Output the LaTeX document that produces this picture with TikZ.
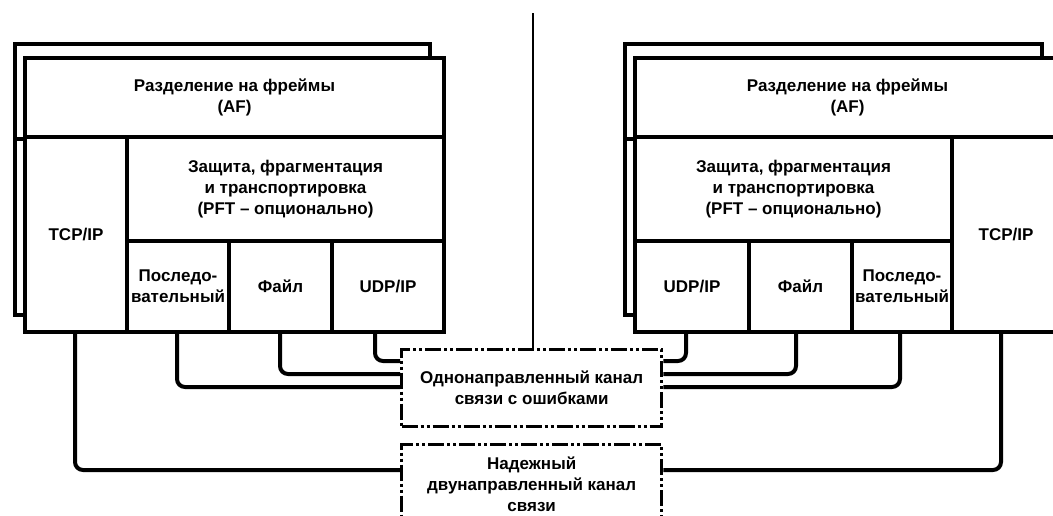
\documentclass[tikz,border=0pt]{standalone}
\usepackage{fontspec}
\setmainfont{Liberation Sans}
\begin{document}
\begin{tikzpicture}[x=1pt,y=-1pt,
  frame/.style={draw, line width=4pt, fill=white, anchor=north west, inner sep=0pt},
  cell/.style={draw, line width=4pt, anchor=north west, inner sep=0pt, align=center,
    font=\bfseries\fontsize{17}{21}\selectfont},
  dbox/.style={draw, line width=3.4pt, anchor=north west, inner sep=0pt, align=center,
    font=\bfseries\fontsize{17}{21}\selectfont,
    dash pattern=on 16pt off 3pt on 3pt off 3pt on 3pt off 3pt},
  conn/.style={line width=4pt, rounded corners=8pt},
  sep/.style={line width=4pt},
  axis/.style={line width=2.4pt}]
\useasboundingbox (0,0) rectangle (1053,515);
\clip (0,0) rectangle (1053,515);
% left stack
\node[frame, minimum width=415pt, minimum height=271pt] (Lback) at (13,42) {};
\node[frame, minimum width=419pt, minimum height=274pt] (Lfront) at (23,56) {};
\node[cell, minimum width=419pt, minimum height=79pt] (Laf) at (23,56) {Разделение на фреймы\\(AF)};
\node[cell, minimum width=102pt, minimum height=195pt] (Ltcp) at (23,135) {TCP/IP};
\node[cell, minimum width=317pt, minimum height=104pt] (Lpft) at (125,135) {Защита, фрагментация\\и транспортировка\\(PFT – опционально)};
\node[cell, minimum width=102pt, minimum height=91pt] (Lseq) at (125,239) {Последо-\\вательный};
\node[cell, minimum width=103pt, minimum height=91pt] (Lfile) at (227,239) {Файл};
\node[cell, minimum width=112pt, minimum height=91pt] (Ludp) at (330,239) {UDP/IP};
\draw[sep] (Lback.west |- Laf.south) -- (Laf.south west);
% right stack
\node[frame, minimum width=417pt, minimum height=271pt] (Rback) at (623,42) {};
\node[frame, minimum width=425pt, minimum height=274pt] (Rfront) at (633,56) {};
\node[cell, minimum width=425pt, minimum height=79pt] (Raf) at (633,56) {Разделение на фреймы\\(AF)};
\node[cell, minimum width=317pt, minimum height=104pt] (Rpft) at (633,135) {Защита, фрагментация\\и транспортировка\\(PFT – опционально)};
\node[cell, minimum width=108pt, minimum height=195pt] (Rtcp) at (950,135) {TCP/IP};
\node[cell, minimum width=114pt, minimum height=91pt] (Rudp) at (633,239) {UDP/IP};
\node[cell, minimum width=103pt, minimum height=91pt] (Rfile) at (747,239) {Файл};
\node[cell, minimum width=100pt, minimum height=91pt] (Rseq) at (850,239) {Последо-\\вательный};
\draw[sep] (Rback.west |- Raf.south) -- (Raf.south west);
% channels
\node[dbox, minimum width=260pt, minimum height=77pt] (uni) at (400,348) {Однонаправленный канал\\связи с ошибками};
\node[dbox, minimum width=260pt, minimum height=80pt] (rel) at (400,443) {Надежный\\двунаправленный канал\\связи};
% centre line
\coordinate (top) at (533,13);
\draw[axis] (top) -- (top |- uni.north);
% left connectors
\draw[conn] (Ludp.south -| 375,0) |- (uni.west |- 0,361);
\draw[conn] (Lfile.south -| 280,0) |- (uni.west |- 0,374);
\draw[conn] (Lseq.south -| 177,0) |- (uni.west |- 0,387);
\draw[conn] (Ltcp.south -| 75,0) |- (rel.west |- 0,470);
% right connectors
\draw[conn] (Rudp.south -| 686,0) |- (uni.east |- 0,361);
\draw[conn] (Rfile.south -| 796,0) |- (uni.east |- 0,374);
\draw[conn] (Rseq.south -| 900,0) |- (uni.east |- 0,387);
\draw[conn] (Rtcp.south -| 1001,0) |- (rel.east |- 0,470);
\end{tikzpicture}
\end{document}
